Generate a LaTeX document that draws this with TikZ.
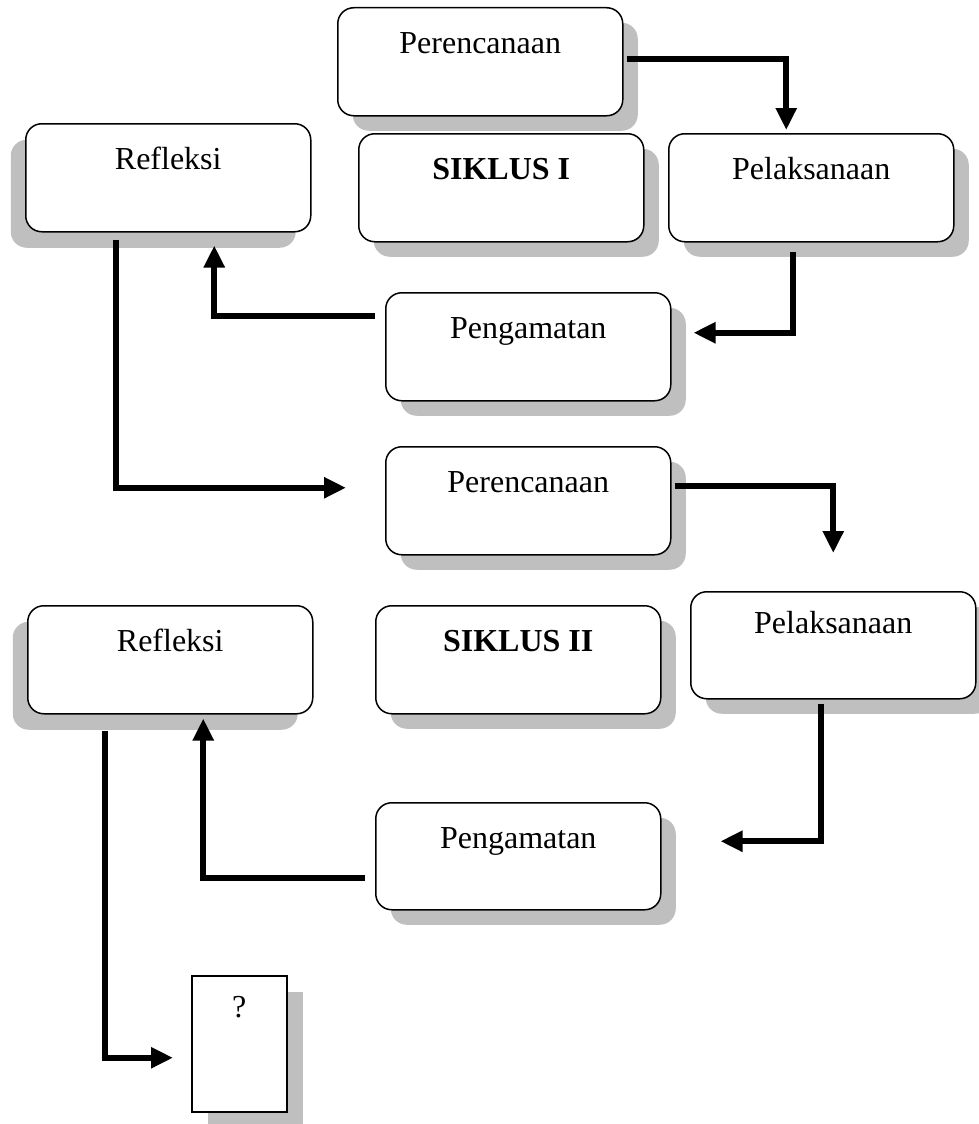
\documentclass[tikz,border=0pt]{standalone}
\usepackage{fontspec}
\setmainfont{Liberation Serif}
\usetikzlibrary{arrows.meta,shadows}

\tikzset{
  stagebox/.style={draw, line width=1.5pt, rounded corners=16pt, fill=white,
    inner sep=0pt, minimum width=285pt, text height=46pt, text depth=62pt,
    font=\fontsize{32pt}{38pt}\selectfont},
  stage/.style={stagebox,
    drop shadow={shadow xshift=15pt, shadow yshift=-15pt, fill=black!25, opacity=1}},
  stageleft/.style={stagebox,
    drop shadow={shadow xshift=-15pt, shadow yshift=-16pt, fill=black!25, opacity=1}},
  conn/.style={line width=6pt, -{Triangle[length=22pt,width=20pt]}}
}

\begin{document}
\begin{tikzpicture}[x=1pt, y=-1pt]

    % Fix the page size
    \useasboundingbox (0,0) rectangle (979,1124);

    % Cycle I
    \node[stage, anchor=north west] (pc1) at (337,7) {Perencanaan};
    \node[stage, anchor=north west, font=\fontsize{32pt}{38pt}\selectfont\bfseries] (sk1) at (358,133) {SIKLUS I};
    \node[stage, anchor=north west] (pl1) at (668,133) {Pelaksanaan};
    \node[stageleft, anchor=north west] (rf1) at (25,123) {Refleksi};
    \node[stage, anchor=north west] (pg1) at (385,292) {Pengamatan};

    % Cycle II
    \node[stage, anchor=north west] (pc2) at (385,446) {Perencanaan};
    \node[stageleft, anchor=north west] (rf2) at (27,605) {Refleksi};
    \node[stage, anchor=north west, font=\fontsize{32pt}{38pt}\selectfont\bfseries] (sk2) at (375,605) {SIKLUS II};
    \node[stage, anchor=north west, text height=42pt, text depth=65pt] (pl2) at (690,591) {Pelaksanaan};
    \node[stage, anchor=north west, text depth=61pt] (pg2) at (375,802) {Pengamatan};

    % Next step
    \node[stagebox, anchor=north west, rounded corners=0pt, minimum width=95pt,
      text height=42pt, text depth=94pt,
      drop shadow={shadow xshift=16pt, shadow yshift=-16pt, fill=black!25, opacity=1}] (q) at (191,975) {?};

    % Connectors of cycle I
    \draw[conn] ([xshift=3pt,yshift=3pt]pc1.east) -| ([xshift=-25pt,yshift=3pt]pl1.north);
    \draw[conn] ([xshift=-18pt,yshift=-9pt]pl1.south) |- ([xshift=22pt,yshift=14pt]pg1.east);
    \draw[conn] ([xshift=-10pt,yshift=31pt]pg1.west) -| ([xshift=46pt,yshift=-13pt]rf1.south);
    \draw[conn] ([xshift=-52pt,yshift=-7pt]rf1.south) |- ([xshift=-39pt,yshift=13pt]pc2.west);

    % Connectors of cycle II
    \draw[conn] ([xshift=3pt,yshift=15pt]pc2.east) -| ([yshift=38pt]pl2.north);
    \draw[conn] ([xshift=-12pt,yshift=-4pt]pl2.south) |- ([xshift=59pt,yshift=15pt]pg2.east);
    \draw[conn] ([xshift=-10pt,yshift=-22pt]pg2.west) -| ([xshift=33pt,yshift=-4pt]rf2.south);
    \draw[conn] ([xshift=-65pt,yshift=-16pt]rf2.south) |- ([xshift=-18pt,yshift=-14pt]q.west);

\end{tikzpicture}
\end{document}
